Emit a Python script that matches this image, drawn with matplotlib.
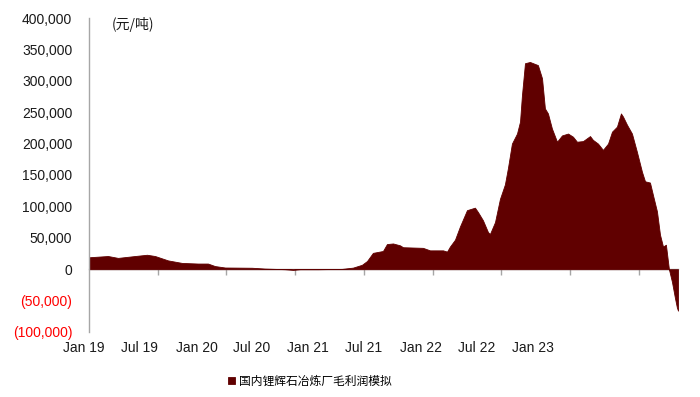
import matplotlib
matplotlib.use("Agg")
import matplotlib.pyplot as plt
from matplotlib.ticker import FuncFormatter
import matplotlib.transforms as mtransforms
import numpy as np

# ---- data (decimal years, CNY/t) ----
years = [2019.000, 2019.138, 2019.211, 2019.335, 2019.422, 2019.480, 2019.575, 2019.676,
         2019.793, 2019.865, 2019.916, 2019.989, 2020.185, 2020.280, 2020.353, 2020.425,
         2020.484, 2020.535, 2020.665, 2020.840, 2020.920, 2020.985, 2021.022, 2021.065,
         2021.138, 2021.167, 2021.211, 2021.262, 2021.284, 2021.429, 2021.480, 2021.575,
         2021.604, 2021.625, 2021.662, 2021.698, 2021.749, 2021.807, 2021.829, 2021.865,
         2021.902, 2021.916, 2021.953, 2021.989, 2022.025, 2022.047, 2022.076, 2022.113,
         2022.135, 2022.149, 2022.171, 2022.207, 2022.265, 2022.295, 2022.316, 2022.338,
         2022.367, 2022.404, 2022.440, 2022.484, 2022.520, 2022.549, 2022.593, 2022.644,
         2022.665, 2022.702, 2022.738, 2022.775, 2022.804, 2022.840, 2022.869, 2022.884,
         2022.913, 2022.949, 2022.985, 2023.022, 2023.044, 2023.080, 2023.102, 2023.131,
         2023.153, 2023.175, 2023.196, 2023.218, 2023.240, 2023.262, 2023.276, 2023.284]
profit = [19000, 21000, 18000, 21000, 23000, 21000, 14000, 10000,
          9000, 9000, 5000, 2700, 2300, 1000, 500, 0,
          -1000, 0, 0, 500, 2500, 7000, 13000, 26000,
          29000, 40000, 41000, 38000, 35000, 34000, 30000, 30000,
          28000, 36000, 47000, 68000, 94000, 98000, 91000, 78000,
          59000, 56000, 75000, 112000, 135000, 161000, 200000, 216000,
          235000, 277000, 328000, 330000, 325000, 304000, 256000, 248000,
          224000, 203000, 213000, 216000, 211000, 203000, 204000, 212000,
          206000, 200000, 190000, 200000, 219000, 227000, 248000, 243000,
          230000, 216000, 187000, 155000, 140000, 138000, 118000, 92000,
          55000, 36000, 39000, 0, -20000, -46000, -61000, -66000]

x_labels = ["Jan 19", "Jul 19", "Jan 20", "Jul 20", "Jan 21",
            "Jul 21", "Jan 22", "Jul 22", "Jan 23"]
series_name = "国内锂辉石冶炼厂毛利润模拟"
unit_label = "(元/吨)"

# layout-only positions
label_pos = [2018.964, 2019.364, 2019.782, 2020.183, 2020.593,
             2021.000, 2021.415, 2021.822, 2022.229]
halfyear_ticks = [2019.5, 2020.0, 2020.5, 2021.0, 2021.5, 2022.0, 2022.5, 2023.0]

fill_color = "#600000"
grey = "#A6A6A6"
text_color = "#1A1A1A"

fig = plt.figure(figsize=(7.0, 3.97), dpi=100)
ax = fig.add_axes([89/700, 1-332/397, (678-89)/700, (332-18)/397])

ax.fill_between(years, profit, 0, color=fill_color, linewidth=0.6,
                edgecolor=fill_color, label=series_name)

ax.set_xlim(2019.0, years[-1])
ax.set_ylim(-100000, 400000)

# y axis
yt = np.arange(-100000, 400001, 50000)
ax.set_yticks(yt)
def yfmt(v, pos):
    if v < 0:
        return "({:,.0f})".format(-v)
    return "{:,.0f}".format(v)
ax.yaxis.set_major_formatter(FuncFormatter(yfmt))
ax.tick_params(axis="y", length=0, pad=12, labelsize=10, labelcolor=text_color)
for lab, v in zip(ax.get_yticklabels(), yt):
    lab.set_fontfamily("Liberation Sans")
    if v < 0:
        lab.set_color("#FF0000")

# x labels (placed as text, under the axes)
ax.set_xticks([])
trans = mtransforms.blended_transform_factory(ax.transData, fig.transFigure)
for pos, lab in zip(label_pos, x_labels):
    ax.text(pos, 1-348/397, lab, transform=trans, ha="center", va="center",
            fontsize=10, family="Liberation Sans", color=text_color, clip_on=False)

for s in ["top", "right", "bottom"]:
    ax.spines[s].set_visible(False)
ax.spines["left"].set_color(grey)
ax.spines["left"].set_linewidth(1.0)

# zero line with half-year ticks
sec = ax.secondary_xaxis(0.2)
sec.set_xticks(halfyear_ticks)
sec.set_xticklabels([])
sec.tick_params(axis="x", direction="out", length=4, color=grey, width=1)
sec.spines["bottom"].set_color(grey)
sec.spines["bottom"].set_linewidth(1.0)

fig.text(112/700, 1-25/397, unit_label, fontsize=10,
         family=["Noto Sans CJK SC", "DejaVu Sans"],
         color=text_color, va="center", ha="left")

leg = fig.legend(loc="center", bbox_to_anchor=(310/700, 1-381/397), frameon=False,
                 prop={"family": ["Noto Sans CJK SC", "DejaVu Sans"], "size": 8.5},
                 handlelength=0.6, handleheight=0.6, handletextpad=0.3)

fig.savefig("out.png", dpi=100)
